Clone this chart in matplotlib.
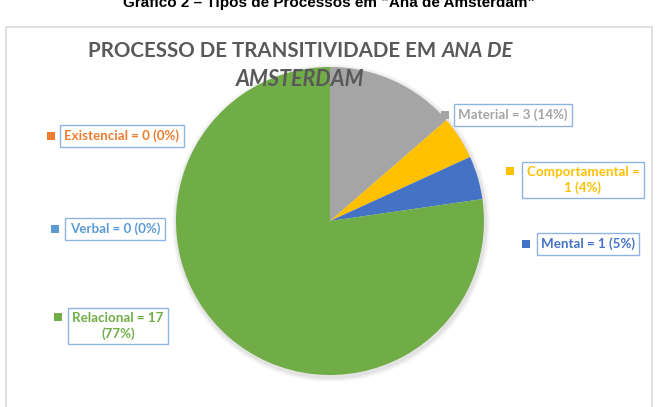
import matplotlib.pyplot as plt
from matplotlib.patches import Circle, Rectangle

# dados do grafico (sentido horario a partir do topo)
categorias = ["Material", "Comportamental", "Mental", "Relacional", "Verbal", "Existencial"]
valores = [3, 1, 1, 17, 0, 0]
percentuais = [14, 4, 5, 77, 0, 0]
cores = ["#A5A5A5", "#FFC000", "#4472C4", "#70AD47", "#5B9BD5", "#ED7D31"]

W, H = 659, 407
fig = plt.figure(figsize=(W / 100, H / 100), dpi=100)
ax = fig.add_axes([0, 0, 1, 1])

cx, cy, r = 330, H - 221, 154

# moldura do grafico
ax.add_patch(Rectangle((6, -5), 646, H - 27 + 5, fill=False, ec="#D9D9D9", lw=1.2))

# sombra leve
for k, a in [(5, 0.05), (3.5, 0.07), (2, 0.1)]:
    ax.add_patch(Circle((cx + 1, cy - 2), r + k, color="#808080", alpha=a, lw=0))

ax.pie(valores, colors=cores, startangle=90, counterclock=False,
       center=(cx, cy), radius=r, frame=False)

ax.set_xlim(0, W)
ax.set_ylim(0, H)
ax.set_aspect("equal")
ax.axis("off")

# legenda/rotulos (posicoes em pixels)
pos = {
    "Material": (513, 115, 445, 115),
    "Comportamental": (583, 180, 510, 171),
    "Mental": (588, 244, 526, 244),
    "Relacional": (118, 326, 58, 317),
    "Verbal": (115, 229, 55, 229),
    "Existencial": (122, 136, 51, 136),
}
for nome, v, p, c in zip(categorias, valores, percentuais, cores):
    tx, ty, mx, my = pos[nome]
    if nome == "Comportamental":
        txt = f"{nome} =\n{v} ({p}%)"
    elif nome == "Relacional":
        txt = f"{nome} = {v}\n({p}%)"
    else:
        txt = f"{nome} = {v} ({p}%)"
    ax.text(tx, H - ty, txt, color=c, fontsize=9.6, fontweight="bold",
            family="Lato", ha="center", va="center", linespacing=1.3,
            bbox=dict(boxstyle="square,pad=0.33", fc="white", ec="#8FB4E3", lw=1))
    ax.scatter([mx], [H - my], marker="s", s=30, color=c, lw=0)

# titulo
t1 = ax.text(88, H - 51, "PROCESSO DE TRANSITIVIDADE EM", fontsize=14.8, fontweight="bold",
             family="Lato", color="#595959", ha="left", va="center")
fig.canvas.draw()
bb = t1.get_window_extent()
ax.text(bb.x1 + 6, H - 51, "ANA DE", fontsize=14.8, fontweight="bold", style="italic",
        family="Lato", color="#595959", ha="left", va="center")
ax.text(300, H - 79, "AMSTERDAM", fontsize=15.5, fontweight="bold", style="italic",
        family="Lato", color="#595959", ha="center", va="center")

# legenda da figura (cortada no topo)
fig.text(0.5, 1 - 7 / H, "Gráfico 2 – Tipos de Processos em \u201cAna de Amsterdam\u201d",
         fontsize=11, fontweight="bold", family="Liberation Sans",
         ha="center", va="baseline")

plt.savefig("out.png", dpi=100)
